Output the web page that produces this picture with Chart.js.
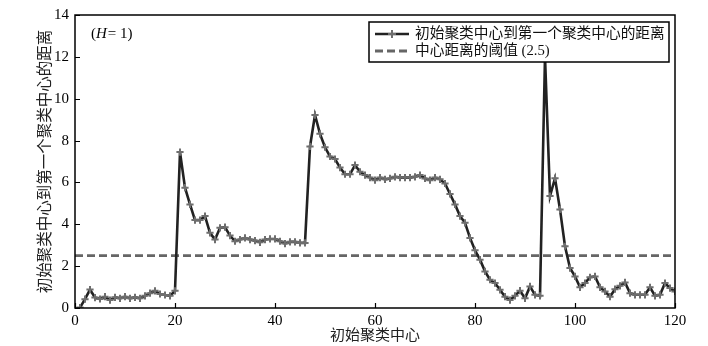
<!DOCTYPE html>
<html>
<head>
<meta charset="utf-8">
<script src="https://cdn.jsdelivr.net/npm/chart.js@4.4.1/dist/chart.umd.min.js"></script>
<style>
  html, body { margin: 0; padding: 0; background: #fff; }
</style>
</head>
<body>
<canvas id="grafico" width="708" height="346"></canvas>
<script>
// dados
const rotuloSerie = "初始聚类中心到第一个聚类中心的距离";
const rotuloLimiar = "中心距离的阈值 (2.5)";
const tituloX = "初始聚类中心";
const tituloY = "初始聚类中心到第一个聚类中心的距离";
const limiar = 2.5;
const primeiroCentro = 1;
const distancias = [
  0.02, 0.42, 0.88, 0.50, 0.43, 0.54, 0.38, 0.51, 0.46, 0.54,
  0.46, 0.51, 0.46, 0.58, 0.71, 0.82, 0.67, 0.62, 0.58, 0.82,
  7.45, 5.75, 4.95, 4.20, 4.20, 4.39, 3.59, 3.27, 3.83, 3.86,
  3.46, 3.19, 3.27, 3.35, 3.27, 3.22, 3.14, 3.27, 3.30, 3.30,
  3.19, 3.08, 3.16, 3.16, 3.11, 3.11, 7.72, 9.22, 8.32, 7.68,
  7.24, 7.12, 6.71, 6.39, 6.39, 6.83, 6.51, 6.35, 6.23, 6.11,
  6.23, 6.15, 6.19, 6.27, 6.23, 6.23, 6.23, 6.27, 6.35, 6.19,
  6.11, 6.23, 6.15, 5.95, 5.45, 4.95, 4.39, 4.07, 3.35, 2.76,
  2.31, 1.75, 1.35, 1.19, 0.87, 0.54, 0.38, 0.58, 0.83, 0.46,
  1.03, 0.63, 0.58, 12.0, 5.35, 6.20, 4.71, 2.95, 1.91, 1.51,
  0.99, 1.19, 1.47, 1.51, 0.99, 0.79, 0.54, 0.90, 1.06, 1.22,
  0.71, 0.63, 0.63, 0.63, 0.99, 0.58, 0.63, 1.19, 0.95, 0.79
];
const limitesX = [0, 120];
const limitesY = [0, 14];
const passoX = 20;
const passoY = 2;

const fonte = "'Liberation Serif', 'Noto Sans CJK SC', serif";

//Plugin para moldura, marcas internas, anotação e legenda
const extras = {
  id: "extras",
  afterDraw(chart) {
    const ctx = chart.ctx;
    const a = chart.chartArea;
    const sx = chart.scales.x;
    const sy = chart.scales.y;
    ctx.save();
    // moldura
    ctx.strokeStyle = "#000";
    ctx.lineWidth = 1.5;
    ctx.strokeRect(a.left, a.top, a.right - a.left, a.bottom - a.top);
    // marcas para dentro
    ctx.lineWidth = 1.2;
    ctx.beginPath();
    sx.ticks.forEach(t => {
      const px = Math.round(sx.getPixelForValue(t.value)) + 0.5;
      ctx.moveTo(px, a.bottom);
      ctx.lineTo(px, a.bottom - 5);
    });
    sy.ticks.forEach(t => {
      const py = Math.round(sy.getPixelForValue(t.value)) + 0.5;
      ctx.moveTo(a.left, py);
      ctx.lineTo(a.left + 5, py);
    });
    ctx.stroke();

    // anotação (H = 1)
    ctx.fillStyle = "#000";
    ctx.textBaseline = "middle";
    let tx = a.left + 16;
    const ty = a.top + 19;
    ctx.font = "15px " + fonte;
    ctx.fillText("(", tx, ty);
    tx += ctx.measureText("(").width;
    ctx.font = "italic 15px " + fonte;
    ctx.fillText("H", tx, ty);
    tx += ctx.measureText("H").width + 1;
    ctx.font = "15px " + fonte;
    ctx.fillText("= 1)", tx, ty);

    // legenda
    const ds = chart.data.datasets;
    const bx = a.right - 306, by = a.top + 7, bw = 300, bh = 40;
    ctx.fillStyle = "#fff";
    ctx.fillRect(bx, by, bw, bh);
    ctx.strokeStyle = "#000";
    ctx.lineWidth = 1.5;
    ctx.strokeRect(bx, by, bw, bh);
    ds.forEach((d, i) => {
      const ly = by + 12 + i * 17;
      ctx.strokeStyle = d.borderColor;
      ctx.lineWidth = d.borderWidth;
      ctx.setLineDash(d.borderDash || []);
      ctx.beginPath();
      ctx.moveTo(bx + 6, ly);
      ctx.lineTo(bx + 40, ly);
      ctx.stroke();
      ctx.setLineDash([]);
      if (d.pointRadius > 0) {
        ctx.strokeStyle = d.pointBorderColor;
        ctx.lineWidth = d.pointBorderWidth;
        ctx.beginPath();
        ctx.moveTo(bx + 23 - 4, ly);
        ctx.lineTo(bx + 23 + 4, ly);
        ctx.moveTo(bx + 23, ly - 4);
        ctx.lineTo(bx + 23, ly + 4);
        ctx.stroke();
      }
      ctx.fillStyle = "#111";
      ctx.font = "14.7px " + fonte;
      ctx.textBaseline = "middle";
      ctx.fillText(d.label, bx + 46, ly);
    });
    ctx.restore();
  }
};

const pontos = distancias.map((v, i) => ({ x: primeiroCentro + i, y: v }));
const linhaLimiar = limitesX.map(x => ({ x: x, y: limiar }));

new Chart(document.getElementById("grafico").getContext("2d"), {
  type: "line",
  data: {
    datasets: [
      {
        label: rotuloSerie,
        data: pontos,
        borderColor: "#222",
        borderWidth: 2.6,
        pointStyle: "cross",
        pointRadius: 3.6,
        pointBorderColor: "#6e6e6e",
        pointBackgroundColor: "#6e6e6e",
        pointBorderWidth: 2,
        tension: 0
      },
      {
        label: rotuloLimiar,
        data: linhaLimiar,
        borderColor: "#666",
        borderWidth: 2.8,
        borderDash: [8, 4],
        pointRadius: 0,
        tension: 0
      }
    ]
  },
  options: {
    responsive: false,
    devicePixelRatio: 1,
    animation: false,
    events: [],
    layout: { padding: { top: 14, right: 33, left: 0, bottom: 0 } },
    plugins: { legend: { display: false }, tooltip: { enabled: false } },
    scales: {
      x: {
        type: "linear",
        min: limitesX[0],
        max: limitesX[1],
        ticks: { stepSize: passoX, padding: 4, color: "#000", font: { family: fonte, size: 15 }, maxRotation: 0 },
        grid: { display: false, drawTicks: false },
        border: { display: false },
        title: { display: true, text: tituloX, color: "#222", font: { family: fonte, size: 15 }, padding: { top: 0, bottom: 1 } },
        afterFit(s) { s.height = 38; }
      },
      y: {
        min: limitesY[0],
        max: limitesY[1],
        ticks: { stepSize: passoY, padding: 6, color: "#000", font: { family: fonte, size: 15 } },
        grid: { display: false, drawTicks: false },
        border: { display: false },
        title: { display: true, text: tituloY, color: "#222", font: { family: fonte, size: 15.5 }, padding: { top: 37, bottom: 0 } },
        afterFit(s) { s.width = 75; }
      }
    }
  },
  plugins: [extras]
});
</script>
</body>
</html>
